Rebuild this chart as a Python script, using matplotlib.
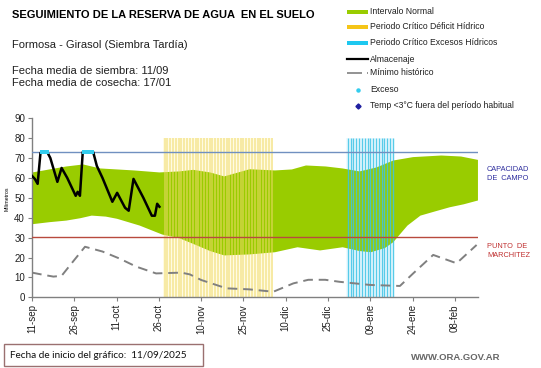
import matplotlib

matplotlib.use("Agg")
import matplotlib.pyplot as plt
import numpy as np
from matplotlib.lines import Line2D
from matplotlib.patches import Rectangle

# --- data (days since 11-sep) ---
band_days = [0, 4, 12, 18, 24, 36, 45, 52, 57, 63, 68, 73, 77, 86, 92, 97, 104, 110,
             116, 122, 128, 135, 145, 152, 158]
band_upper = [63, 64, 66, 67, 65, 64, 63, 63.5, 64.3, 63, 61, 63, 64.6, 64, 64.5, 66.5, 66,
              65, 63.5, 65.5, 69, 70.7, 71.5, 71, 69.3]
band_lower_days = [0, 6, 12, 17, 21, 26, 30, 38, 46, 52, 57, 63, 68, 77, 86, 94, 102, 110,
                   116, 120, 125, 128, 131, 133, 137.6, 143, 148, 153, 158]
band_lower = [37, 38, 38.8, 40, 41.3, 40.8, 39.7, 36.3, 31.8, 30, 27.1, 23.5, 21.3, 21.8,
              22.9, 25.4, 23.8, 25.4, 23.5, 22.9, 25, 28, 33, 36.3, 41.3, 43.5, 45.5, 47, 48.9]

min_days = [0, 4, 7.6, 10.5, 14, 18.8, 25, 31, 37, 44, 53, 56, 60, 69, 77, 85.6, 92.7, 98,
            104, 109, 120, 130.5, 135.2, 142.3, 150.6, 157.7]
min_hist = [12.4, 11.3, 10.4, 10.8, 17, 25.4, 23, 19.5, 15.4, 12, 12.4, 11.5, 8.7, 4.5, 4,
            2.8, 7, 8.8, 8.8, 7.8, 6.2, 5.7, 12, 21.3, 17.1, 26.3]

alm_days = [0, 1, 2, 3, 3.5, 5.4, 6.5, 9, 10.5, 12.5, 15.5, 16.2, 17, 18, 21.7, 23, 25, 28.5,
            30.2, 33, 34.3, 36, 39.5, 42.5, 43.6, 44.4, 45.2]
almacenaje = [61, 59.5, 57, 72.5, 73, 73, 70, 58, 65, 60, 51, 53, 51, 73, 73, 66, 60, 48,
              52.5, 45, 43.5, 59.5, 50, 41, 41, 47, 45.5]

exceso_days = [3.6, 4.2, 4.8, 5.3, 18.3, 18.9, 19.5, 20.1, 20.7, 21.3]
exceso_vals = [73] * len(exceso_days)

deficit_period = (47, 85)
excess_period = (112, 128)
capacidad_campo = 73
punto_marchitez = 30.5

tick_days = [0, 15, 30, 45, 60, 75, 90, 105, 120, 135, 150]
tick_labels = ["11-sep", "26-sep", "11-oct", "26-oct", "10-nov", "25-nov", "10-dic",
               "25-dic", "09-ene", "24-ene", "08-feb"]

W, H = 541, 368


def fx(px):
    return px / W


def fy(py):
    return 1 - py / H


plt.rcParams["font.family"] = ["Liberation Sans", "DejaVu Sans"]

fig = plt.figure(figsize=(W / 100, H / 100), dpi=100)
ax = fig.add_axes([fx(32), fy(297.3), fx(478.3) - fx(32), fy(118.2) - fy(297.3)])

# green normal interval
grid = np.union1d(band_days, band_lower_days)
up = np.interp(grid, band_days, band_upper)
lo = np.interp(grid, band_lower_days, band_lower)
ax.fill_between(grid, lo, up, color="#99cc00", linewidth=0, zorder=1)

# critical periods drawn as daily vertical lines
d0, d1 = deficit_period
ax.axvspan(d0 - 0.5, d1 + 0.5, ymax=80 / 90, color="#fffbe2", linewidth=0, zorder=0)
ax.vlines(np.arange(d0, d1 + 1), 0, 80, colors="#f0da6a", linewidth=1.1, alpha=0.65, zorder=2)
e0, e1 = excess_period
ax.axvspan(e0 - 0.5, e1 + 0.5, ymax=80 / 90, color="#eefaff", linewidth=0, zorder=0)
ax.vlines(np.arange(e0, e1 + 1), 0, 80, colors="#3cc3e6", linewidth=1.0, alpha=0.85, zorder=2)

ax.axhline(capacidad_campo, color="#7090c0", linewidth=1.0, zorder=3)
ax.axhline(punto_marchitez, color="#b84a3e", linewidth=1.0, zorder=3)

ax.plot(min_days, min_hist, color="#808080", linewidth=1.4, dashes=(5, 3), zorder=4)
ax.plot(alm_days, almacenaje, color="black", linewidth=1.8, zorder=5)
ax.plot(exceso_days, exceso_vals, linestyle="none", marker="s", markersize=2.6,
        markeredgewidth=0, color="#33ccee", zorder=6)

ax.set_xlim(0, 158.3)
ax.set_ylim(0, 90)
ax.set_yticks(range(0, 91, 10))
ax.set_xticks(tick_days)
ax.set_xticklabels(tick_labels, rotation=90)
ax.tick_params(axis="both", labelsize=7, length=3, width=0.8, color="#808080",
               labelcolor="#202020", pad=2)
for side in ("top", "right"):
    ax.spines[side].set_visible(False)
for side in ("left", "bottom"):
    ax.spines[side].set_color("#808080")
    ax.spines[side].set_linewidth(1.0)

fig.text(fx(7), fy(199), "Milímetros", rotation=90, fontsize=3.8, ha="center", va="center")

# right labels
fig.text(fx(487), fy(170), "CAPACIDAD", fontsize=5.3, color="#2e2e9e", va="center")
fig.text(fx(487), fy(179), "DE  CAMPO", fontsize=5.3, color="#2e2e9e", va="center")
fig.text(fx(487), fy(246.5), "PUNTO  DE", fontsize=5.3, color="#c03030", va="center")
fig.text(fx(487), fy(255.5), "MARCHITEZ", fontsize=5.3, color="#c03030", va="center")

# header texts
fig.text(fx(12), fy(15.3), "SEGUIMIENTO DE LA RESERVA DE AGUA  EN EL SUELO", fontsize=8.0,
         weight="bold", va="center")
fig.text(fx(12.5), fy(45), "Formosa - Girasol (Siembra Tardía)", fontsize=8.0, va="center",
         color="#202020")
fig.text(fx(12.5), fy(70.5), "Fecha media de siembra: 11/09", fontsize=8.0, va="center",
         color="#202020")
fig.text(fx(12.5), fy(83.3), "Fecha media de cosecha: 17/01", fontsize=8.0, va="center",
         color="#202020")

# manual legend
lx0, lx1, tx = 346.7, 368.3, 369.5
for y, col in [(11.7, "#99cc00"), (26.7, "#f5c518"), (42.7, "#1ec8f0")]:
    fig.add_artist(Rectangle((fx(lx0), fy(y + 2)), fx(lx1) - fx(lx0), fy(y - 2) - fy(y + 2),
                             transform=fig.transFigure, color=col, linewidth=0))
fig.add_artist(Line2D([fx(lx0), fx(lx1)], [fy(59.3), fy(59.3)], transform=fig.transFigure,
                      color="black", linewidth=1.6))
fig.add_artist(Line2D([fx(lx0), fx(lx1)], [fy(72.7), fy(72.7)], transform=fig.transFigure,
                      color="#808080", linewidth=1.2, dashes=(9, 3)))
fig.add_artist(Line2D([fx(358.3)], [fy(90)], transform=fig.transFigure, marker="o",
                      markersize=2.2, color="#33ccee", linestyle="none"))
fig.add_artist(Line2D([fx(358.3)], [fy(106)], transform=fig.transFigure, marker="D",
                      markersize=2.6, color="#1f1fa0", linestyle="none"))
legend_items = [
    (11.7, "Intervalo Normal"),
    (26.7, "Periodo Crítico Déficit Hídrico"),
    (42.7, "Periodo Crítico Excesos Hídricos"),
    (59.3, "Almacenaje"),
    (72.7, "Mínimo histórico"),
    (90, "Exceso"),
    (106, "Temp <3°C fuera del período habitual"),
]
for y, label in legend_items:
    x = tx if y < 80 else 370.5
    fig.text(fx(x), fy(y), label, fontsize=6.2, va="center", color="#202020")

# footer
fig.add_artist(Rectangle((fx(4), fy(366)), fx(203) - fx(4), fy(344) - fy(366),
                         transform=fig.transFigure, facecolor="white", edgecolor="#9a7070",
                         linewidth=1.0))
fig.text(fx(10), fy(355), "Fecha de inicio del gráfico:  11/09/2025", fontsize=7.2,
         family=["Lato", "DejaVu Sans"], va="center", color="#101010")
fig.text(fx(500), fy(358), "WWW.ORA.GOV.AR", fontsize=6.8, ha="right", va="center",
         color="#666666", weight="bold")

fig.savefig("out.png", dpi=100)
